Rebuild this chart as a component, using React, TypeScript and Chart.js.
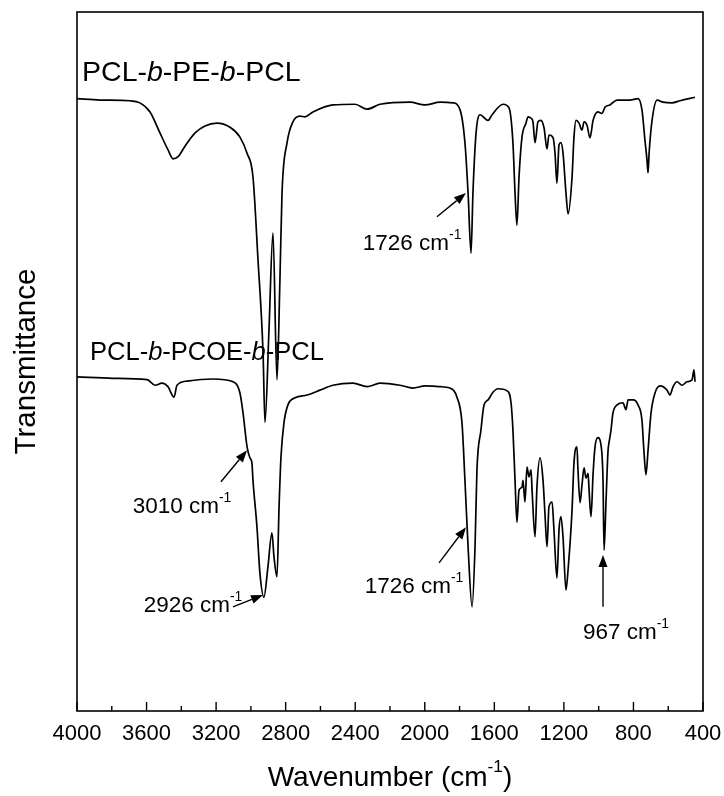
import React, { useEffect, useRef } from 'react';
import { Chart, registerables } from 'chart.js';

Chart.register(...registerables);

// ---- Data (wavenumber in cm^-1, transmittance in arbitrary units) ----
const peWave = [4000,3868,3695,3638,3580,3523,3477,3448,3419,3379,3321,3264,3195,3120,3063,3022,2988,2959,2930,2919,2896,2873,2850,2833,2821,2792,2758,2718,2689,2643,2528,2401,2332,2257,2085,1999,1912,1838,1797,1769,1751,1734,1723,1705,1682,1636,1613,1550,1516,1493,1481,1470,1458,1441,1418,1406,1389,1378,1366,1349,1332,1314,1297,1286,1262,1251,1240,1228,1217,1205,1188,1176,1153,1142,1130,1113,1096,1084,1067,1050,1032,1004,981,963,935,894,820,774,751,734,722,716,710,693,664,630,578,532,446];
const peT = [87.6,87.4,87.3,87.0,85.7,82.7,80.3,79.0,79.3,80.8,82.7,83.7,84.1,83.5,82.1,79.8,76.4,64.5,51.2,41.3,54.5,68.4,47.4,61.7,74.1,81.3,84.3,85.1,85.0,85.7,86.7,86.8,86.1,86.8,87.1,86.7,87.1,87.0,86.0,81.3,74.1,65.5,74.1,82.7,85.3,84.5,85.3,86.8,86.3,81.3,74.1,69.5,76.4,82.1,84.1,85.0,84.8,84.3,81.3,84.3,84.5,83.4,80.4,82.4,82.0,79.8,75.5,81.0,81.3,79.8,74.1,71.1,76.4,82.1,84.5,84.1,83.1,84.3,83.8,82.0,84.5,85.7,85.5,86.4,86.7,87.4,87.4,87.6,86.0,81.7,78.8,77.0,79.8,84.5,87.4,87.1,87.0,87.3,87.8];

const pcoeWave = [4000,3793,3597,3551,3511,3477,3442,3425,3367,3218,3103,3063,3045,3022,3005,2994,2988,2965,2948,2925,2902,2879,2867,2850,2838,2827,2810,2787,2746,2677,2603,2528,2413,2332,2257,2142,2068,1999,1912,1855,1815,1786,1769,1751,1728,1711,1700,1677,1659,1636,1608,1579,1527,1504,1493,1481,1470,1458,1441,1435,1424,1412,1401,1389,1383,1366,1355,1337,1320,1309,1297,1286,1268,1257,1240,1228,1217,1205,1188,1176,1153,1142,1125,1119,1107,1096,1084,1073,1061,1056,1044,1032,1021,1004,987,975,969,958,946,941,929,918,894,860,843,831,802,774,751,740,728,716,699,676,647,607,590,572,549,521,492,463,452,446];
const pcoeT = [47.8,47.6,47.4,46.6,46.9,46.4,44.9,46.6,47.2,47.5,47.1,45.5,42.6,37.8,36.2,35.5,33.0,26.3,19.7,16.3,20.6,25.5,22.0,19.2,29.2,36.3,41.2,43.8,44.8,45.2,45.9,46.6,46.9,46.4,46.9,46.6,46.2,46.5,46.4,46.2,44.9,41.2,33.0,23.5,14.9,23.5,34.5,40.2,43.8,44.5,45.6,46.1,45.8,44.1,40.2,33.0,27.0,31.6,32.0,33.0,29.9,34.9,33.5,34.5,31.6,24.9,32.0,36.2,33.0,28.3,23.5,29.2,29.9,25.9,19.0,25.9,27.8,24.9,17.3,20.2,28.8,35.5,37.8,34.5,29.8,32.3,34.8,33.3,34.0,32.0,27.8,34.0,37.8,39.1,38.1,33.0,23.0,29.8,37.3,38.3,40.2,42.6,43.8,44.1,43.1,44.5,44.5,43.8,41.6,37.3,33.8,37.3,42.6,45.5,46.5,45.9,45.2,46.4,47.1,46.6,47.1,47.4,48.8,47.1];

// Series labels (rich text: b is italic)
const seriesLabelParts = [
  ['PCL-', 'b', '-PE-', 'b', '-PCL'],
  ['PCL-', 'b', '-PCOE-', 'b', '-PCL'],
];
const seriesLabelW = [3971, 3925];
const seriesLabelT = [91.3, 51.2];
const seriesLabelSize = [28.5, 25.5];

// Peak annotations
const annoNumbers = ['1726', '3010', '2926', '1726', '967'];
const annoTextW = [2073, 3396, 3333, 2062, 843];
const annoTextT = [66.8, 29.2, 15.0, 17.7, 11.2];
const arrowFromW = [1930, 3172, 3103, 1918, 975];
const arrowFromT = [70.7, 32.8, 14.9, 21.2, 14.9];
const arrowToW = [1763, 3022, 2930, 1763, 975];
const arrowToT = [74.1, 37.3, 16.6, 26.3, 22.3];

const xMin = 400;
const xMax = 4000;
const xStep = 200;
const xLabelStep = 400;

const FONT = '"Liberation Sans", Arial, Helvetica, sans-serif';

type Seg = { text: string; italic?: boolean; sup?: boolean };

function drawRich(ctx: CanvasRenderingContext2D, segs: Seg[], x: number, y: number, size: number, align: 'left' | 'center') {
  let total = 0;
  const parts = segs.map((s) => {
    const fs = s.sup ? size * 0.62 : size;
    const font = `${s.italic ? 'italic ' : ''}${fs}px ${FONT}`;
    ctx.font = font;
    const w = ctx.measureText(s.text).width;
    total += w;
    return { ...s, font, w };
  });
  let cx = align === 'center' ? x - total / 2 : x;
  ctx.textAlign = 'left';
  ctx.textBaseline = 'middle';
  for (const p of parts) {
    ctx.font = p.font;
    ctx.fillText(p.text, cx, p.sup ? y - size * 0.4 : y);
    cx += p.w;
  }
}

function drawArrow(ctx: CanvasRenderingContext2D, fx: number, fy: number, tx: number, ty: number) {
  const ang = Math.atan2(ty - fy, tx - fx);
  const hl = 12;
  const hw = 4.5;
  const bx = tx - hl * Math.cos(ang);
  const by = ty - hl * Math.sin(ang);
  ctx.beginPath();
  ctx.moveTo(fx, fy);
  ctx.lineTo(bx, by);
  ctx.lineWidth = 1.4;
  ctx.stroke();
  ctx.beginPath();
  ctx.moveTo(tx, ty);
  ctx.lineTo(bx + hw * Math.sin(ang), by - hw * Math.cos(ang));
  ctx.lineTo(bx - hw * Math.sin(ang), by + hw * Math.cos(ang));
  ctx.closePath();
  ctx.fill();
}

const decorPlugin = {
  id: 'decor',
  afterDraw(chart: any) {
    const { ctx, chartArea, scales } = chart;
    const xs = scales.x;
    const ys = scales.y;
    ctx.save();
    ctx.strokeStyle = '#000';
    ctx.fillStyle = '#000';

    // frame
    ctx.lineWidth = 1.6;
    ctx.strokeRect(chartArea.left, chartArea.top, chartArea.right - chartArea.left, chartArea.bottom - chartArea.top);

    // inward ticks on bottom axis
    ctx.lineWidth = 1.4;
    for (const t of xs.ticks) {
      const px = xs.getPixelForValue(t.value);
      const len = t.value % xLabelStep === 0 ? 9 : 5;
      ctx.beginPath();
      ctx.moveTo(px, chartArea.bottom);
      ctx.lineTo(px, chartArea.bottom - len);
      ctx.stroke();
    }

    // series labels
    seriesLabelParts.forEach((parts, i) => {
      const segs: Seg[] = parts.map((p) => ({ text: p, italic: p === 'b' }));
      drawRich(ctx, segs, xs.getPixelForValue(seriesLabelW[i]), ys.getPixelForValue(seriesLabelT[i]), seriesLabelSize[i], 'left');
    });

    // annotations
    annoNumbers.forEach((n, i) => {
      drawRich(ctx, [{ text: n + ' cm' }, { text: '-1', sup: true }], xs.getPixelForValue(annoTextW[i]), ys.getPixelForValue(annoTextT[i]), 22.5, 'center');
      drawArrow(ctx, xs.getPixelForValue(arrowFromW[i]), ys.getPixelForValue(arrowFromT[i]), xs.getPixelForValue(arrowToW[i]), ys.getPixelForValue(arrowToT[i]));
    });

    // x axis title
    const cxT = (chartArea.left + chartArea.right) / 2;
    drawRich(ctx, [{ text: 'Wavenumber (cm' }, { text: '-1', sup: true }, { text: ')' }], cxT, chartArea.bottom + 67, 28, 'center');

    // y axis title
    ctx.save();
    ctx.translate(27, (chartArea.top + chartArea.bottom) / 2);
    ctx.rotate(-Math.PI / 2);
    ctx.font = `29.5px ${FONT}`;
    ctx.textAlign = 'center';
    ctx.textBaseline = 'middle';
    ctx.fillText('Transmittance', 0, 0);
    ctx.restore();

    ctx.restore();
  },
};

export default function App() {
  const ref = useRef<HTMLCanvasElement | null>(null);
  useEffect(() => {
    if (!ref.current) return;
    const chart = new Chart(ref.current, {
      type: 'line',
      data: {
        datasets: [
          {
            label: 'PCL-b-PE-b-PCL',
            data: peWave.map((w, i) => ({ x: w, y: peT[i] })),
            borderColor: '#000',
            borderWidth: 1.7,
            pointRadius: 0,
            cubicInterpolationMode: 'monotone',
            fill: false,
          },
          {
            label: 'PCL-b-PCOE-b-PCL',
            data: pcoeWave.map((w, i) => ({ x: w, y: pcoeT[i] })),
            borderColor: '#000',
            borderWidth: 1.7,
            pointRadius: 0,
            cubicInterpolationMode: 'monotone',
            fill: false,
          },
        ],
      },
      options: {
        responsive: false,
        animation: false,
        devicePixelRatio: 1,
        layout: { padding: { left: 77, right: 21, top: 12, bottom: 0 } },
        plugins: { legend: { display: false }, tooltip: { enabled: false } },
        scales: {
          x: {
            type: 'linear',
            reverse: true,
            min: xMin,
            max: xMax,
            grid: { display: false, drawTicks: false },
            border: { display: false },
            ticks: {
              stepSize: xStep,
              autoSkip: false,
              maxRotation: 0,
              padding: 10,
              color: '#000',
              font: { family: FONT, size: 22 },
              callback: (v: any) => (Number(v) % xLabelStep === 0 ? String(v) : ''),
            },
            afterFit: (scale: any) => {
              scale.height = 85;
              scale.paddingLeft = 0;
              scale.paddingRight = 0;
            },
          },
          y: {
            display: false,
            min: 0,
            max: 100,
          },
        },
      },
      plugins: [decorPlugin],
    });
    return () => chart.destroy();
  }, []);
  return (
    <div style={{ position: 'fixed', left: 0, top: 0, width: 724, height: 796, background: '#fff' }}>
      <canvas ref={ref} width={724} height={796} />
    </div>
  );
}
